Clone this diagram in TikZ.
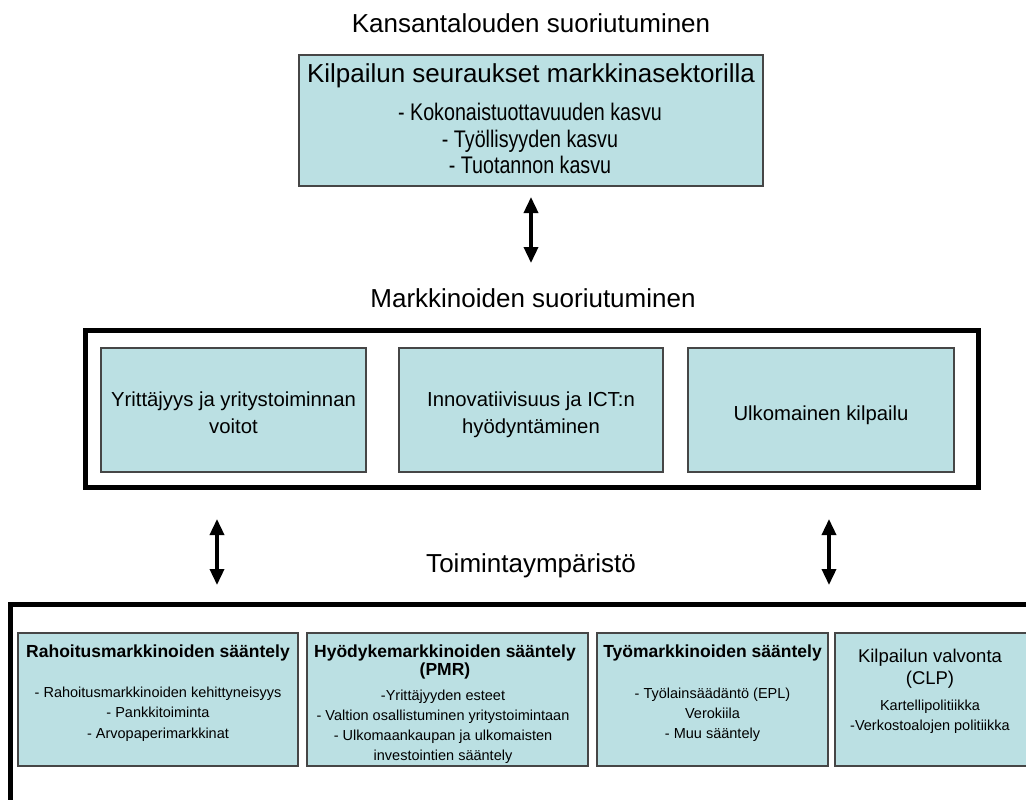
\documentclass[tikz,border=0pt]{standalone}
\usepackage{fontspec}
\setmainfont{Liberation Sans}
\newfontfamily\narrowfont[FakeStretch=0.82]{Liberation Sans}
\usetikzlibrary{arrows.meta}
\definecolor{boxfill}{RGB}{187,224,227}
\definecolor{boxline}{RGB}{70,70,70}
\tikzset{
  cbox/.style={draw=boxline, line width=1.2pt, fill=boxfill, inner sep=0pt, outer sep=0pt, rectangle},
  frame/.style={draw=black, line width=5pt},
  ttl/.style={anchor=base, inner sep=0pt, font=\fontsize{26}{30}\selectfont},
  hd/.style={anchor=base, inner sep=0pt, font=\fontsize{26}{30}\selectfont},
  nb/.style={anchor=base, inner sep=0pt, font=\narrowfont\fontsize{24}{28}\selectfont},
  mt/.style={anchor=base, inner sep=0pt, font=\fontsize{20.3}{25}\selectfont},
  bh/.style={anchor=base, inner sep=0pt, font=\bfseries\fontsize{17.5}{20}\selectfont},
  bh4/.style={anchor=base, inner sep=0pt, font=\fontsize{18.5}{21}\selectfont},
  bt/.style={anchor=base, inner sep=0pt, font=\fontsize{14.5}{17}\selectfont},
  dblarrow/.style={line width=3.5pt, {Triangle[width=14pt,length=16pt]}-{Triangle[width=14pt,length=16pt]}}
}
\begin{document}
\begin{tikzpicture}[x=1pt,y=-1pt]
\useasboundingbox (0,0) rectangle (1026,800);

% titles
\node[ttl] (t1) at (531,33) {Kansantalouden suoriutuminen};
\node[ttl] (t2) at (533,307) {Markkinoiden suoriutuminen};
\node[ttl] (t3) at (531,572) {Toimintaympäristö};

% top box
\node[cbox, minimum width=464pt, minimum height=131pt] (top) at (531,120.5) {};
\node[hd] (toph) at (531,83) {Kilpailun seuraukset markkinasektorilla};
\node[nb] (topl1) at (530,120.7) {- Kokonaistuottavuuden kasvu};
\node[nb] (topl2) at (530,147) {- Työllisyyden kasvu};
\node[nb] (topl3) at (530,173) {- Tuotannon kasvu};

% middle frame
\node[frame, minimum width=893pt, minimum height=157pt, inner sep=0pt, outer sep=0pt] (mid) at (532,409) {};
\node[cbox, minimum width=265pt, minimum height=124pt] (m1) at (233.5,410) {};
\node[cbox, minimum width=264pt, minimum height=124pt] (m2) at (531,410) {};
\node[cbox, minimum width=266pt, minimum height=124pt] (m3) at (821,410) {};
\node[mt] (m1a) at (233.5,406) {Yrittäjyys ja yritystoiminnan};
\node[mt] (m1b) at (233.5,433) {voitot};
\node[mt] (m2a) at (531,406) {Innovatiivisuus ja ICT:n};
\node[mt] (m2b) at (531,433) {hyödyntäminen};
\node[mt] (m3a) at (821,420) {Ulkomainen kilpailu};

% bottom frame
\draw[frame] (10.5,820) -- (10.5,604.5) -- (1040,604.5);
\node[cbox, minimum width=280pt, minimum height=133pt] (b1) at (158,699.5) {};
\node[cbox, minimum width=281pt, minimum height=133pt] (b2) at (447.5,699.5) {};
\node[cbox, minimum width=231pt, minimum height=133pt] (b3) at (712.5,699.5) {};
\node[cbox, minimum width=195pt, minimum height=133pt] (b4) at (932.5,699.5) {};

\node[bh] (b1h) at (158,657) {Rahoitusmarkkinoiden sääntely};
\node[bt] (b1a) at (158,697) {- Rahoitusmarkkinoiden kehittyneisyys};
\node[bt] (b1b) at (158,717) {- Pankkitoiminta};
\node[bt] (b1c) at (158,738) {- Arvopaperimarkkinat};

\node[bh] (b2h) at (445,657) {Hyödykemarkkinoiden sääntely};
\node[bh] (b2i) at (445,675) {(PMR)};
\node[bt] (b2a) at (443,700) {-Yrittäjyyden esteet};
\node[bt] (b2b) at (443,720) {- Valtion osallistuminen yritystoimintaan};
\node[bt] (b2c) at (443,740) {- Ulkomaankaupan ja ulkomaisten};
\node[bt] (b2d) at (443,760) {investointien sääntely};

\node[bh] (b3h) at (712.5,657) {Työmarkkinoiden sääntely};
\node[bt] (b3a) at (712.5,698) {- Työlainsäädäntö (EPL)};
\node[bt] (b3b) at (712.5,718) {Verokiila};
\node[bt] (b3c) at (712.5,738) {- Muu sääntely};

\node[bh4] (b4h) at (930,662) {Kilpailun valvonta};
\node[bh4] (b4i) at (930,684) {(CLP)};
\node[bt] (b4a) at (930,710) {Kartellipolitiikka};
\node[bt] (b4b) at (930,730) {-Verkostoalojen politiikka};

% arrows
\coordinate (a1s) at (531,197);
\coordinate (a1e) at (531,263);
\coordinate (a2s) at (217,519);
\coordinate (a2e) at (217,585);
\coordinate (a3s) at (829,519);
\coordinate (a3e) at (829,585);
\draw[dblarrow] (a1s) -- (a1e);
\draw[dblarrow] (a2s) -- (a2e);
\draw[dblarrow] (a3s) -- (a3e);
\end{tikzpicture}
\end{document}
